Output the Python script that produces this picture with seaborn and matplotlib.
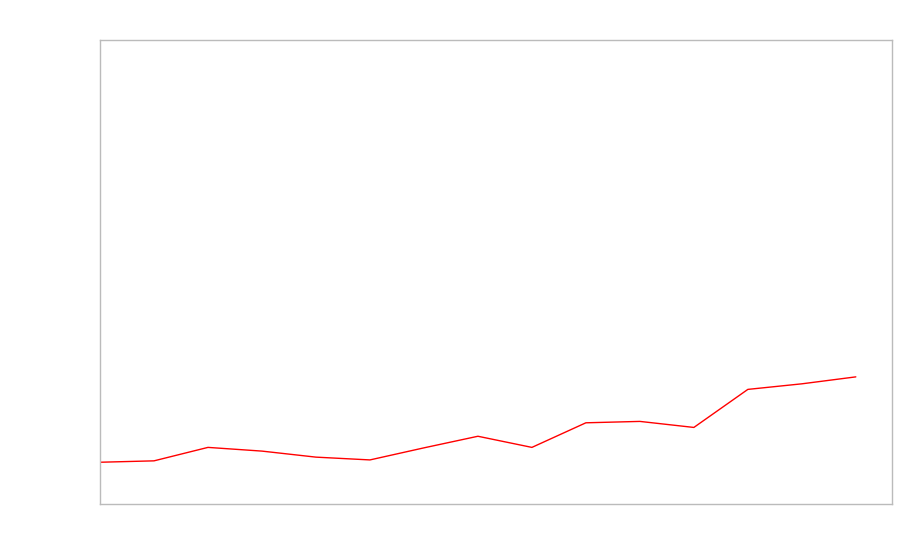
import matplotlib
matplotlib.use("Agg")
import matplotlib.pyplot as plt
import seaborn as sns
import pandas as pd

sns.set_theme(style="white")

x_index = list(range(15))
values = [9.0, 9.3, 12.2, 11.4, 10.1, 9.5, 12.1, 14.6, 12.2, 17.5, 17.8, 16.5, 24.7, 25.9, 27.4]

df = pd.DataFrame({"x": x_index, "y": values})

fig = plt.figure(figsize=(9, 5.6), dpi=100)
ax = fig.add_axes([100 / 900, 56 / 560, 792 / 900, 464 / 560])
sns.lineplot(data=df, x="x", y="y", ax=ax, color="red", linewidth=1.0)
ax.set_xlim(0, 14.67)
ax.set_ylim(0, 100)
ax.set_xticks([])
ax.set_yticks([])
ax.set_xlabel("")
ax.set_ylabel("")
for s in ax.spines.values():
    s.set_color("#bbbbbb")
    s.set_linewidth(1.0)
    s.set_visible(True)

fig.savefig("out.png", dpi=100)
